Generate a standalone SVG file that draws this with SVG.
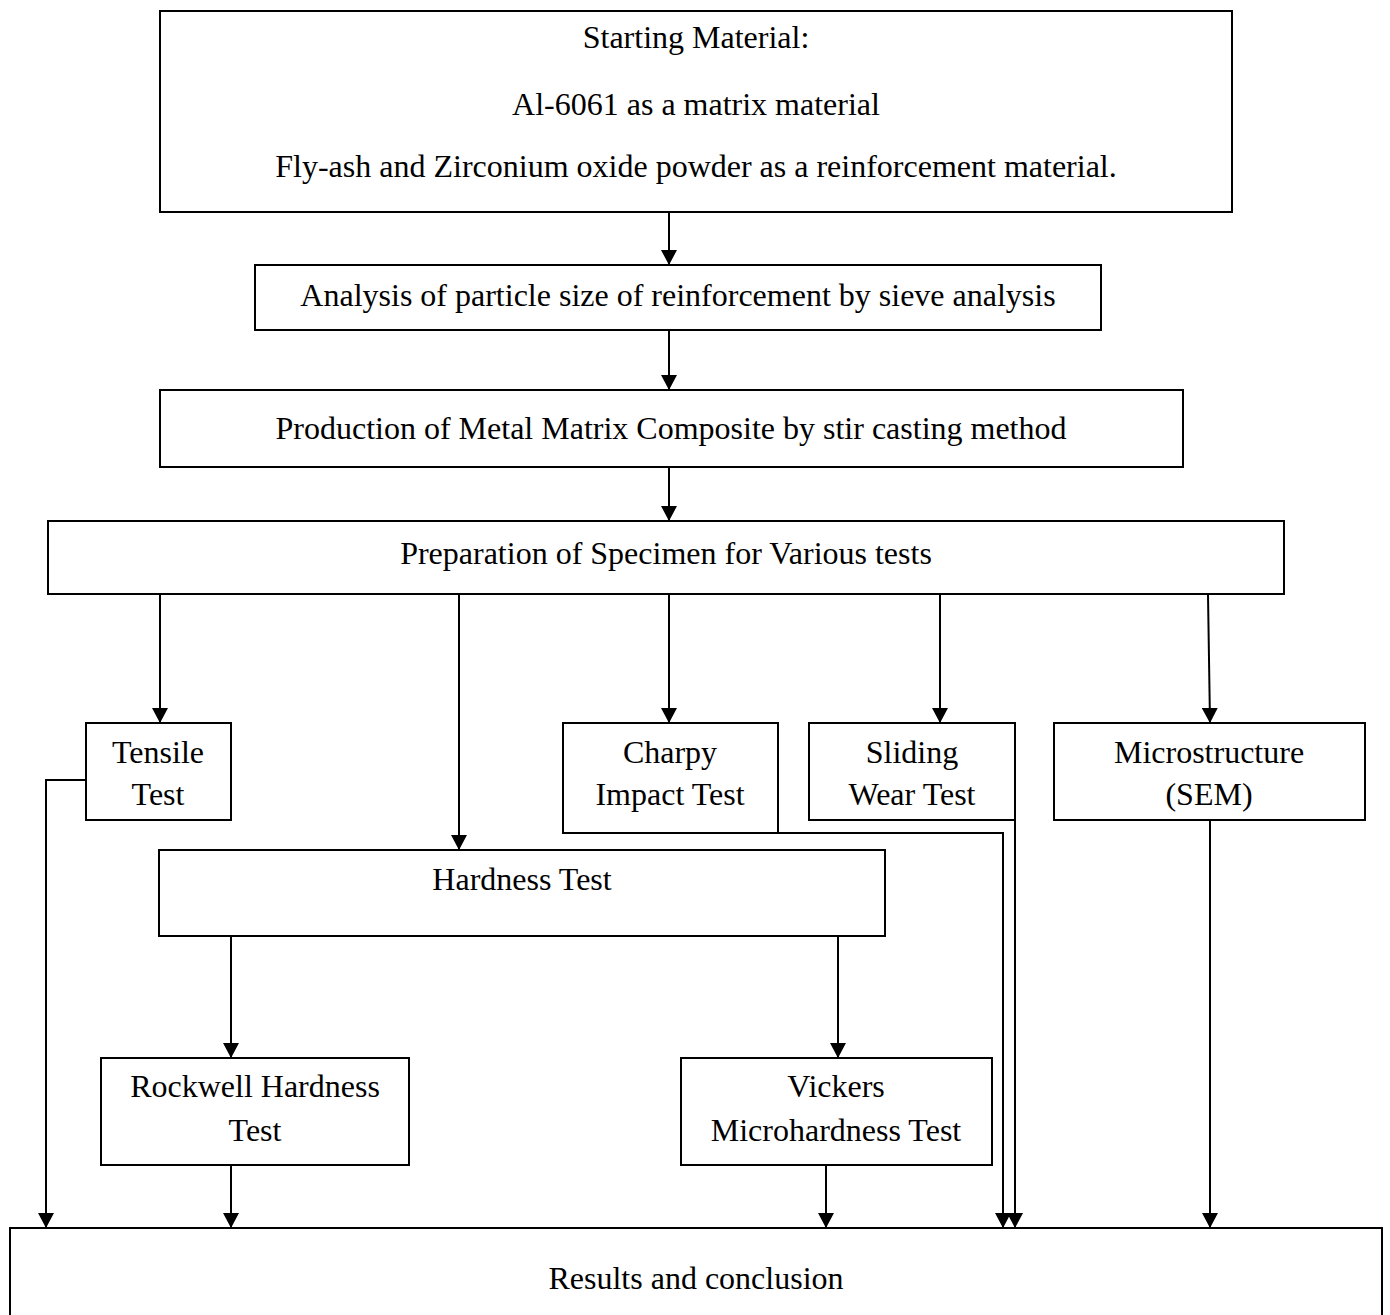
<svg xmlns="http://www.w3.org/2000/svg" width="1390" height="1315" viewBox="0 0 1390 1315">
<style>
.box{fill:#fff;stroke:#000;stroke-width:2}
.t{font-family:"Liberation Serif","Times New Roman",serif;font-size:32px;fill:#000;text-anchor:middle}
.c{fill:none;stroke:#000;stroke-width:2;marker-end:url(#ah)}
</style>
<defs>
<marker id="ah" markerUnits="userSpaceOnUse" markerWidth="16" markerHeight="16" refX="15" refY="8" orient="auto">
<path d="M0,0 L15,8 L0,16 Z" fill="#000"/>
</marker>
</defs>
<rect width="1390" height="1315" fill="#fff"/>
<g id="connectors">
<path class="c" d="M669,212 V265"/>
<path class="c" d="M669,330 V390"/>
<path class="c" d="M669,467 V521"/>
<path class="c" d="M160,595 V723"/>
<path class="c" d="M459,595 V850"/>
<path class="c" d="M669,595 V723"/>
<path class="c" d="M940,595 V723"/>
<path class="c" d="M1208,595 L1210,723"/>
<path class="c" d="M86,780 H46 V1228"/>
<path class="c" d="M231,936 V1058"/>
<path class="c" d="M838,936 V1058"/>
<path class="c" d="M231,1165 V1228"/>
<path class="c" d="M826,1165 V1228"/>
<path class="c" d="M778,833 H1003 V1228"/>
<path class="c" d="M1015,820 V1228"/>
<path class="c" d="M1210,820 V1228"/>
</g>
<g id="start">
<rect class="box" x="160" y="11" width="1072" height="201"/>
<text class="t" x="696" y="48">Starting Material:</text>
<text class="t" x="696" y="115">Al-6061 as a matrix material</text>
<text class="t" x="696" y="177">Fly-ash and Zirconium oxide powder as a reinforcement material.</text>
</g>
<g id="analysis">
<rect class="box" x="255" y="265" width="846" height="65"/>
<text class="t" x="678" y="306">Analysis of particle size of reinforcement by sieve analysis</text>
</g>
<g id="production">
<rect class="box" x="160" y="390" width="1023" height="77"/>
<text class="t" x="671" y="439">Production of Metal Matrix Composite by stir casting method</text>
</g>
<g id="preparation">
<rect class="box" x="48" y="521" width="1236" height="73"/>
<text class="t" x="666" y="564">Preparation of Specimen for Various tests</text>
</g>
<g id="tensile">
<rect class="box" x="86" y="723" width="145" height="97"/>
<text class="t" x="158" y="763">Tensile</text>
<text class="t" x="158" y="805">Test</text>
</g>
<g id="charpy">
<rect class="box" x="563" y="723" width="215" height="110"/>
<text class="t" x="670" y="763">Charpy</text>
<text class="t" x="670" y="805">Impact Test</text>
</g>
<g id="sliding">
<rect class="box" x="809" y="723" width="206" height="97"/>
<text class="t" x="912" y="763">Sliding</text>
<text class="t" x="912" y="805">Wear Test</text>
</g>
<g id="microstructure">
<rect class="box" x="1054" y="723" width="311" height="97"/>
<text class="t" x="1209" y="763">Microstructure</text>
<text class="t" x="1209" y="805">(SEM)</text>
</g>
<g id="hardness">
<rect class="box" x="159" y="850" width="726" height="86"/>
<text class="t" x="522" y="890">Hardness Test</text>
</g>
<g id="rockwell">
<rect class="box" x="101" y="1058" width="308" height="107"/>
<text class="t" x="255" y="1097">Rockwell Hardness</text>
<text class="t" x="255" y="1141">Test</text>
</g>
<g id="vickers">
<rect class="box" x="681" y="1058" width="311" height="107"/>
<text class="t" x="836" y="1097">Vickers</text>
<text class="t" x="836" y="1141">Microhardness Test</text>
</g>
<g id="results">
<rect class="box" x="10" y="1228" width="1372" height="110"/>
<text class="t" x="696" y="1289">Results and conclusion</text>
</g>
</svg>
